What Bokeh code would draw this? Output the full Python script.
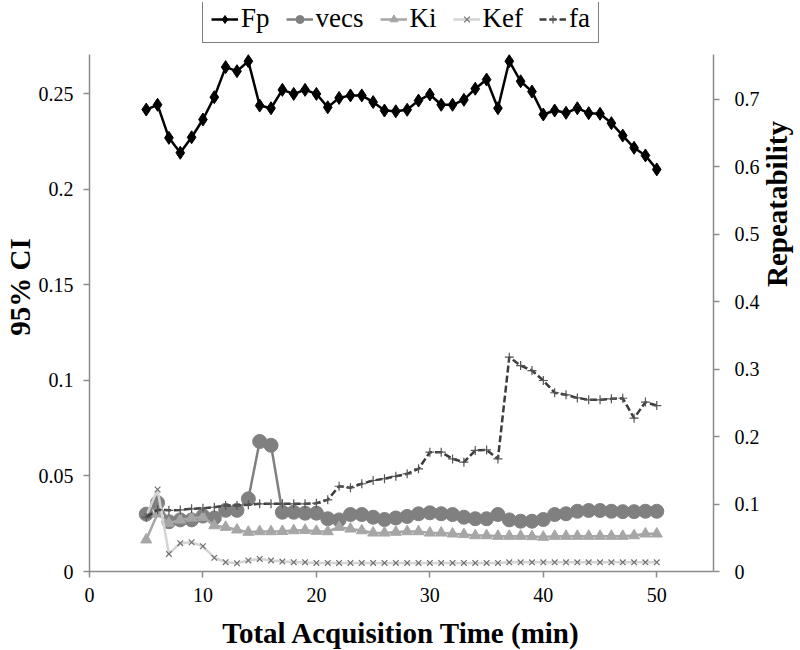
import math
from bokeh.plotting import figure
from bokeh.models import Range1d, LinearAxis, FixedTicker, Legend, LegendItem
from bokeh.embed import file_html
from bokeh.resources import INLINE

time_min = list(range(5, 51))

fp = [0.2416, 0.2441, 0.2268, 0.2190, 0.2271, 0.2364, 0.2481, 0.2638, 0.2617, 0.2669,
      0.2437, 0.2423, 0.2519, 0.2498, 0.2519, 0.2498, 0.2428, 0.2477, 0.2490, 0.2490,
      0.2455, 0.2411, 0.2407, 0.2415, 0.2463, 0.2495, 0.2441, 0.2441, 0.2467, 0.2525,
      0.2573, 0.2423, 0.2669, 0.2564, 0.2510, 0.2390, 0.2411, 0.2399, 0.2423, 0.2397,
      0.2394, 0.2345, 0.2280, 0.2216, 0.2176, 0.2103]

vecs = [0.030, 0.036, 0.026, 0.027, 0.027, 0.029, 0.028, 0.032, 0.032, 0.038,
        0.068, 0.066, 0.031, 0.031, 0.0305, 0.0305, 0.0276, 0.027, 0.0298, 0.0298,
        0.0284, 0.0272, 0.028, 0.0288, 0.0302, 0.0307, 0.0302, 0.0298, 0.0284, 0.0276,
        0.0276, 0.0298, 0.027, 0.0263, 0.0263, 0.0272, 0.0298, 0.0302, 0.0315, 0.0319,
        0.0319, 0.0315, 0.0313, 0.0313, 0.0315, 0.0315]

ki = [0.0166, 0.0302, 0.0253, 0.027, 0.028, 0.0284, 0.024, 0.0232, 0.0218, 0.0206,
      0.0209, 0.0209, 0.021, 0.0214, 0.0216, 0.0211, 0.0209, 0.0232, 0.0223, 0.0214,
      0.0202, 0.0202, 0.0206, 0.0209, 0.0209, 0.0202, 0.0202, 0.0197, 0.0194, 0.0188,
      0.0188, 0.0185, 0.0185, 0.0185, 0.0183, 0.018, 0.0185, 0.0185, 0.0185, 0.0185,
      0.0185, 0.0185, 0.0185, 0.0188, 0.0197, 0.0197]

kef = [0.029, 0.0429, 0.0092, 0.0148, 0.0153, 0.0132, 0.0072, 0.0049, 0.0043, 0.0058,
       0.0066, 0.0058, 0.0052, 0.0049, 0.0049, 0.0045, 0.0045, 0.0045, 0.0045, 0.0045,
       0.0045, 0.0045, 0.0045, 0.0045, 0.0045, 0.0045, 0.0045, 0.0045, 0.0045, 0.0045,
       0.0045, 0.0045, 0.0048, 0.0048, 0.0048, 0.0048, 0.0048, 0.0048, 0.0048, 0.0048,
       0.0048, 0.0048, 0.0048, 0.0048, 0.0048, 0.0048]

fa = [0.0284, 0.0323, 0.032, 0.0322, 0.0328, 0.0331, 0.0336, 0.0345, 0.0345, 0.0349,
      0.0354, 0.0354, 0.0354, 0.0354, 0.0354, 0.0357, 0.0375, 0.0446, 0.0438, 0.0459,
      0.0476, 0.0485, 0.0498, 0.0511, 0.0537, 0.0624, 0.0624, 0.0589, 0.0572, 0.0633,
      0.0636, 0.0589, 0.1121, 0.1077, 0.1051, 0.0999, 0.0935, 0.0924, 0.0908, 0.0898,
      0.0898, 0.0903, 0.0906, 0.0802, 0.0886, 0.0868]

x_ticks = [0, 10, 20, 30, 40, 50]
left_ticks = [0, 0.05, 0.1, 0.15, 0.2, 0.25]
left_labels = ["0", "0.05", "0.1", "0.15", "0.2", "0.25"]
right_ticks = [0, 0.1, 0.2, 0.3, 0.4, 0.5, 0.6, 0.7]
right_labels = ["0", "0.1", "0.2", "0.3", "0.4", "0.5", "0.6", "0.7"]

LEFT_MAX = 0.2704
RIGHT_MAX = 0.766

SERIF = "Liberation Serif"
AXIS_COL = "#8c8c8c"

# the frame reaches the top of the canvas so the legend (drawn in the frame) is not clipped;
# the axes are bounded to the real plotting area
AXES_H = 517
FRAME_H = 569
ext = FRAME_H / AXES_H

p = figure(output_backend="svg", toolbar_location=None,
           x_range=Range1d(0, 55), y_range=Range1d(0, LEFT_MAX * ext),
           frame_width=624, frame_height=FRAME_H,
           min_border_left=78, min_border_right=80, min_border_top=2, min_border_bottom=70)
p.extra_y_ranges = {"right": Range1d(0, RIGHT_MAX * ext)}
p.outline_line_color = None
p.xgrid.visible = False
p.ygrid.visible = False
p.background_fill_color = "white"

r_fp_l = p.line(time_min, fp, line_color="black", line_width=2.5)
r_fp_m = p.scatter(time_min, fp, marker="diamond", size=13, color="black")
r_v_l = p.line(time_min, vecs, line_color="#808080", line_width=2.5)
r_v_m = p.scatter(time_min, vecs, marker="circle", size=14, color="#808080")
r_k_l = p.line(time_min, ki, line_color="#a6a6a6", line_width=2.5)
r_k_m = p.scatter(time_min, ki, marker="triangle", size=11, color="#a6a6a6")
r_e_l = p.line(time_min, kef, line_color="#d4d4d4", line_width=2.5)
r_e_m = p.scatter(time_min, kef, marker="x", size=8, line_color="#707070", line_width=1.2)
r_f_l = p.line(time_min, fa, line_color="#3c3c3c", line_width=2.5, line_dash="7 3")
r_f_m = p.scatter(time_min, fa, marker="cross", size=9, line_color="#555555", line_width=1.2)

ra = LinearAxis(y_range_name="right", ticker=FixedTicker(ticks=right_ticks),
                major_label_overrides={t: l for t, l in zip(right_ticks, right_labels)},
                axis_label="Repeatability")
p.add_layout(ra, "right")

for ax in (p.xaxis[0], p.yaxis[0], ra):
    ax.axis_line_color = AXIS_COL
    ax.axis_line_width = 1.5
    ax.major_tick_line_color = AXIS_COL
    ax.major_tick_line_width = 1.5
    ax.major_tick_in = 0
    ax.major_tick_out = 6
    ax.minor_tick_line_color = None
    ax.major_label_text_font = SERIF
    ax.major_label_text_font_size = "20px"
    ax.major_label_text_color = "black"
    ax.axis_label_text_font = SERIF
    ax.axis_label_text_font_style = "bold"
    ax.axis_label_text_font_size = "29px"
    ax.axis_label_text_color = "black"

p.xaxis[0].ticker = FixedTicker(ticks=x_ticks)
p.xaxis[0].axis_label = "Total Acquisition Time (min)"
p.xaxis[0].major_label_standoff = 10
p.xaxis[0].axis_label_standoff = 12

p.yaxis[0].ticker = FixedTicker(ticks=left_ticks)
p.yaxis[0].major_label_overrides = {t: l for t, l in zip(left_ticks, left_labels)}
p.yaxis[0].axis_label = "95% CI"
p.yaxis[0].major_label_standoff = 10
p.yaxis[0].axis_label_standoff = 0
p.yaxis[0].bounds = (0, LEFT_MAX)

ra.major_label_standoff = 15
ra.axis_label_standoff = 14
ra.axis_label_orientation = math.pi / 2
ra.bounds = (0, RIGHT_MAX)

legend = Legend(items=[
    LegendItem(label="Fp", renderers=[r_fp_l, r_fp_m]),
    LegendItem(label="vecs", renderers=[r_v_l, r_v_m]),
    LegendItem(label="Ki", renderers=[r_k_l, r_k_m]),
    LegendItem(label="Kef", renderers=[r_e_l, r_e_m]),
    LegendItem(label="fa", renderers=[r_f_l, r_f_m]),
], orientation="horizontal", location=(113, FRAME_H - 41))
legend.label_text_font = SERIF
legend.label_text_font_size = "27px"
legend.label_text_color = "black"
legend.label_standoff = 3
legend.glyph_width = 27
legend.glyph_height = 20
legend.spacing = 16
legend.padding = 8
legend.margin = 0
legend.border_line_color = "black"
legend.border_line_width = 1.5
legend.background_fill_color = "white"
p.add_layout(legend, "center")

open("out.html", "w").write(file_html(p, INLINE))
